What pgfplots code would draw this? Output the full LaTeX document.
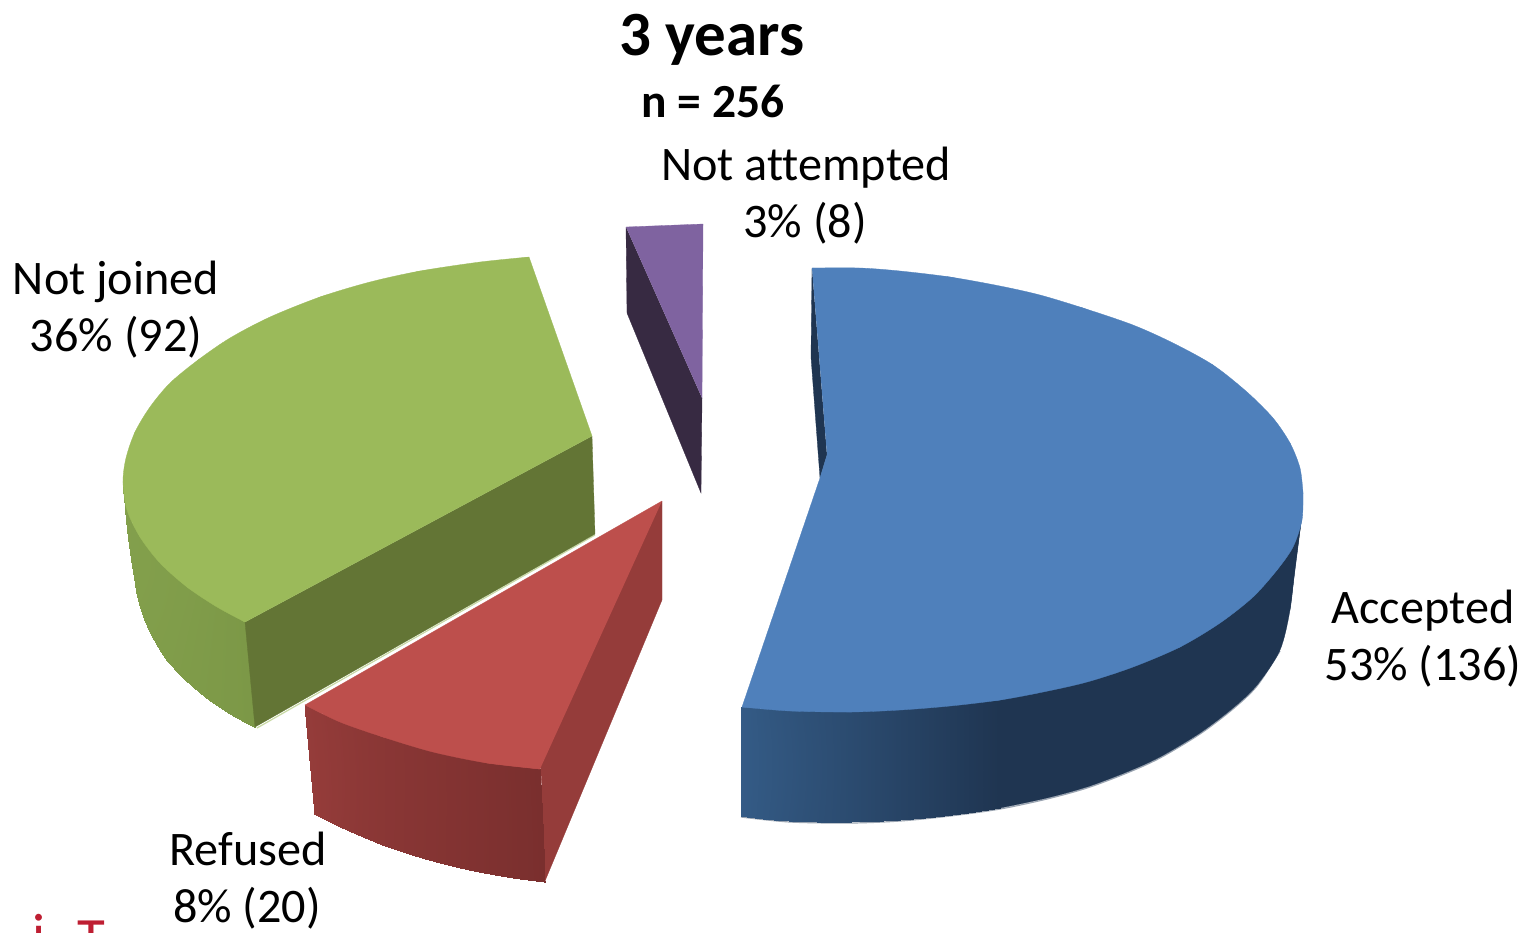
\documentclass[border=0pt]{standalone}
\usepackage{pgfplots}
\pgfplotsset{compat=1.18}
\usepgfplotslibrary{patchplots}
\usepackage{fontspec}
\setmainfont{Carlito}[Ligatures=NoCommon]
\definecolor{blueTop}{HTML}{4F80BB}
\definecolor{blueDark}{HTML}{1F3551}
\definecolor{greenTop}{HTML}{9BBA5A}
\definecolor{greenDark}{HTML}{637535}
\definecolor{redTop}{HTML}{BD4F4C}
\definecolor{redDark}{HTML}{953C3A}
\definecolor{purpleTop}{HTML}{7F63A0}
\definecolor{purpleDark}{HTML}{372A42}
\definecolor{labelRed}{RGB}{190,30,50}
\begin{document}
\begin{tikzpicture}[x=1pt,y=1pt]
\clip[use as bounding box] (0,0) rectangle (1526,-932);
\begin{axis}[
  at={(0,0)}, anchor=north west,
  scale only axis, width=1526pt, height=932pt,
  xmin=0, xmax=1526, ymin=0, ymax=932,
  y dir=reverse, hide axis, clip=true,
  every axis plot/.append style={no markers, forget plot},
  point meta min=0, point meta max=1,
  face/.style={draw=#1, fill=#1, line width=0.3pt},
]
% Accepted: inner wall
\addplot[face=blueDark] coordinates {(812,268)(811,357)(820,478)(827,455)};
% Accepted: pale fringe below the outer wall
\addplot[smooth, draw=blueDark!45!white, line width=1.2pt] coordinates {
(741,817)(790,822)(850,823)(900,821)(950,816)(1000,809)(1047,799)(1087,788)(1127,773)(1160,758)(1200,734)(1233,709)(1257,686)(1280,651)};
% Accepted: outer wall, dark part
\addplot[smooth, face=blueDark] coordinates {
(1302,515)(1295,567)(1290,610)(1280,650)(1257,685)(1233,708)(1200,733)(1160,757)(1127,772)(1087,787)(1047,798)(1000,808)(980,811)};
\addplot[face=blueDark] coordinates {(980,811)(1087,786)(1200,732)(1257,684)(1290,609)(1302,515)(980,600)};
% Accepted: outer wall, shaded part
\addplot[patch, patch type=biquadratic, shader=interp, point meta=explicit,
  colormap={bf}{rgb255=(52,91,134) rgb255=(31,53,81)}] table[meta=c] {
x y c
741 816 0
850 822 0.42
850 712 0.42
741 707 0
790 821 0.2
850 767 0.42
790 711 0.2
741 761 0
795 766 0.2
850 822 0.42
1000 808 1
1000 700 1
850 712 0.42
925 818 0.7
1000 754 1
925 708 0.7
850 767 0.42
925 763 0.7
};
% Accepted: top face
\addplot[smooth, face=blueTop] coordinates {
(812,268)(860,268)(900,271)(950,277)(1000,286)(1040,295)(1083,308)(1133,325)(1173,343)(1213,365)(1247,392)(1273,418)(1290,443)(1300,468)(1303,493)};
\addplot[smooth, face=blueTop] coordinates {
(1303,493)(1302,520)(1293,547)(1277,570)(1253,597)(1220,623)(1180,647)(1133,667)(1087,682)(1043,692)(1000,700)(950,706)(900,710)(850,712)(790,711)(742,707)};
\addplot[face=blueTop] coordinates {
(812,268)(950,277)(1083,308)(1213,365)(1290,443)(1303,493)(1277,570)(1180,647)(1000,700)(850,712)(742,707)(820,478)(827,455)};
% Not attempted
\addplot[face=purpleDark] coordinates {(626,227)(627,313)(701,493)(702,398)};
\addplot[face=purpleTop] coordinates {(626,227)(703,224)(702,398)};
% Not joined: outer wall
\addplot[patch, patch type=biquadratic, shader=interp, point meta=explicit,
  colormap={gf}{rgb255=(131,160,76) rgb255=(124,152,71)}] table[meta=c] {
x y c
124 487 0
135 580 0.1
140 537 0.1
124 482 0
128 533 0.05
138 558 0.1
127 510 0.05
124 484 0
128 515 0.05
135 580 0.1
167 660 0.4
187 587 0.4
140 537 0.1
145 620 0.25
177 623 0.4
160 563 0.25
138 558 0.1
158 590 0.25
167 660 0.4
255 727 1
245 622 1
187 587 0.4
207 698 0.7
250 675 1
217 607 0.7
177 623 0.4
212 650 0.7
};
% Not joined: cut face
\addplot[draw=greenTop!55!white, line width=1.2pt] coordinates {(595,535)(257,728)};
\addplot[face=greenDark] coordinates {(592,436)(595,534)(255,727)(245,622)};
% Not joined: top face
\addplot[smooth, face=greenTop] coordinates {
(529,257)(480,262)(420,271)(370,282)(320,297)(270,317)(230,338)(198,360)(170,383)(150,407)(135,432)(126,458)(123,482)(127,510)(140,537)(160,563)(187,587)(217,607)(245,622)};
\addplot[face=greenTop] coordinates {
(529,257)(592,436)(245,622)(187,587)(140,537)(123,482)(135,432)(198,360)(320,297)(420,271)};
% Refused
\addplot[face=redDark] coordinates {(662,501)(662,600)(545,881)(541,769)(500,700)};
\addplot[patch, patch type=biquadratic, shader=interp, point meta=explicit,
  colormap={rf}{rgb255=(149,60,58) rgb255=(122,47,46)}] table[meta=c] {
x y c
315 814 0
383 845 0.42
383 737 0.42
305 705 0
343 828 0.2
383 791 0.42
340 722 0.2
310 760 0
345 776 0.2
383 845 0.42
545 882 1
540 769 1
383 737 0.42
461 868 0.7
543 825 1
461 758 0.7
383 791 0.42
462 813 0.7
};
\addplot[smooth, face=redTop] coordinates {(305,705)(340,722)(383,737)(433,752)(487,763)(540,769)};
\addplot[face=redTop] coordinates {(662,501)(305,705)(383,737)(487,763)(540,769)};
% Labels
\node[anchor=base, font=\fontsize{63}{66}\selectfont\bfseries] at (axis cs:712,55) {3 years};
\node[anchor=base, font=\fontsize{47.5}{50}\selectfont\bfseries] at (axis cs:713,117) {n = 256};
\tikzset{lab/.style={anchor=base, font=\fontsize{48.2}{52}\selectfont}}
\node[lab] at (axis cs:806,180) {Not attempted};
\node[lab] at (axis cs:805,237) {3\% (8)};
\node[lab] at (axis cs:116,294) {Not joined};
\node[lab] at (axis cs:116,351) {36\% (92)};
\node[lab] at (axis cs:1423,623) {Accepted};
\node[lab] at (axis cs:1423,680) {53\% (136)};
\node[lab] at (axis cs:248,865) {Refused};
\node[lab] at (axis cs:247,922) {8\% (20)};
\node[anchor=base, text=labelRed, font=\fontsize{57}{60}\selectfont] at (axis cs:39,953) {i};
\node[anchor=base, text=labelRed, font=\fontsize{57}{60}\selectfont] at (axis cs:91,957) {T};
\end{axis}
\end{tikzpicture}
\end{document}
